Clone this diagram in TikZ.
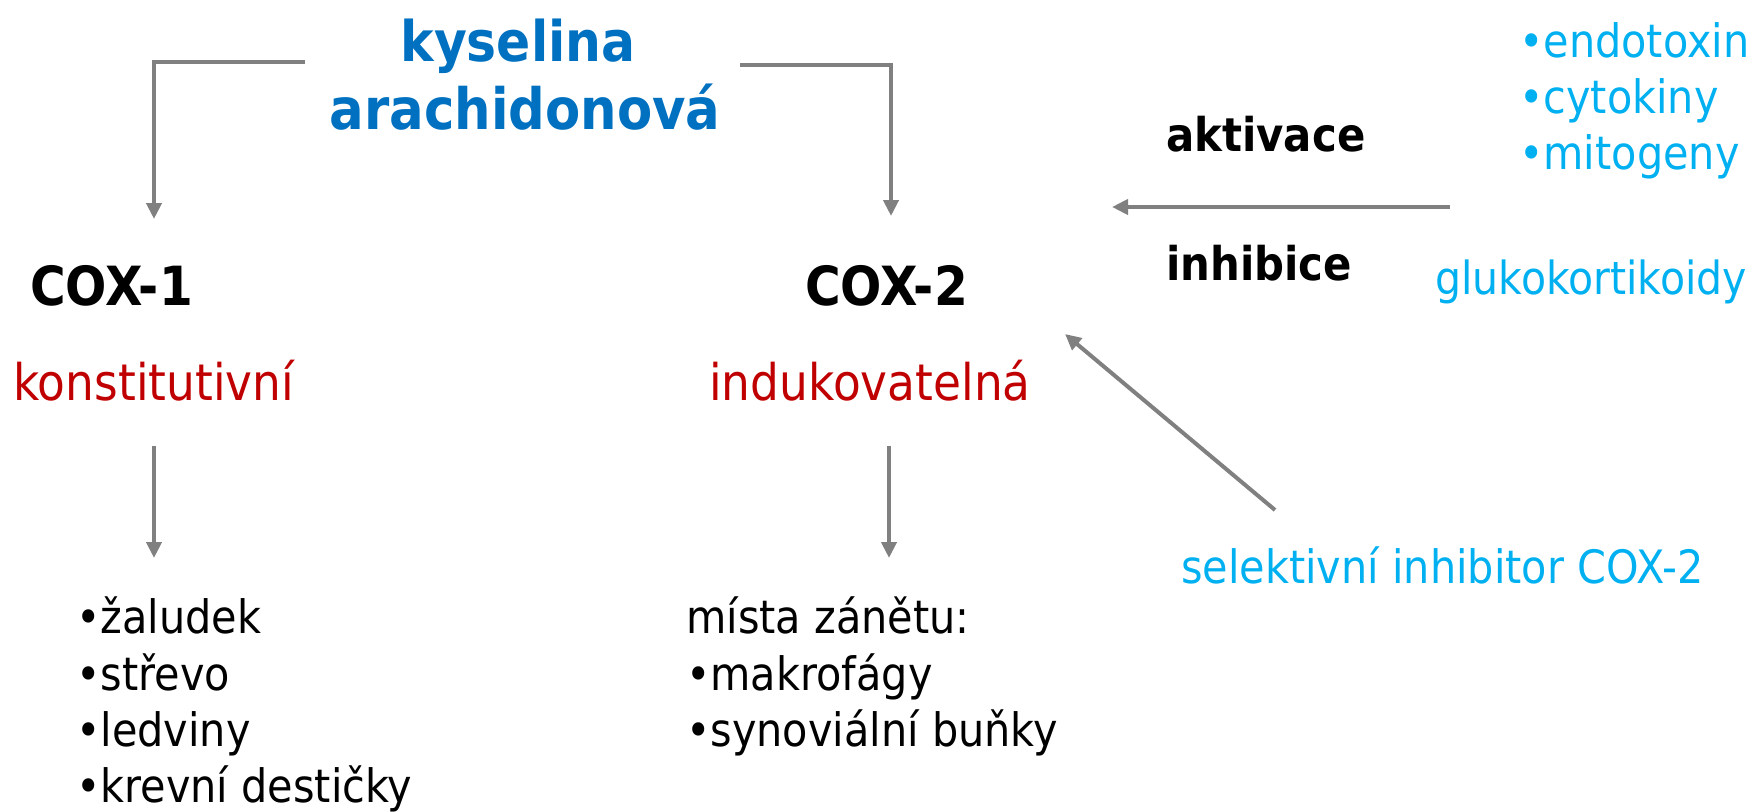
\documentclass[tikz,border=0pt]{standalone}
\usepackage{fontspec}
\setmainfont{DejaVu Sans}[FakeStretch=0.9]
\usetikzlibrary{arrows.meta}
\definecolor{kblue}{HTML}{0070C0}
\definecolor{kcyan}{HTML}{00B0F0}
\definecolor{kred}{HTML}{C00000}
\definecolor{kgray}{HTML}{808080}
\newcommand{\fs}[1]{\fontsize{#1}{#1}\selectfont}
\begin{document}
\begin{tikzpicture}[x=1pt,y=-1pt,
  lbl/.style={inner sep=0pt,anchor=base west},
  lblc/.style={inner sep=0pt,anchor=base},
  conn/.style={draw=kgray,line width=4pt,-{Triangle[length=16pt,width=15pt]}}]
\useasboundingbox (0,0) rectangle (1758,811);
% title
\node[lblc,text=kblue,font=\fs{56}\bfseries] (kys) at (518,61) {kyselina};
\node[lblc,text=kblue,font=\fs{57}\bfseries] (ara) at (525,129) {arachidonová};
% COX nodes
\node[lbl,font=\fs{54}\bfseries] (cox1) at (30,305) {COX-1};
\node[lbl,font=\fs{54}\bfseries] (cox2) at (805,305) {COX-2};
\node[lbl,text=kred,font=\fs{50.5}] (konst) at (13,400) {konstitutivní};
\node[lbl,text=kred,font=\fs{50.5}] (induk) at (709,400) {indukovatelná};
% bracket connectors
\coordinate (lstart) at (305,62);
\coordinate (lcorner) at (154,62);
\coordinate (ltip) at (154,219);
\coordinate (rstart) at (740,65);
\coordinate (rcorner) at (891,65);
\coordinate (rtip) at (891,216);
\draw[conn] (lstart) -- (lcorner) -- (ltip);
\draw[conn] (rstart) -- (rcorner) -- (rtip);
% down arrows
\coordinate (d1s) at (154,446);
\coordinate (d1e) at (154,558);
\coordinate (d2s) at (889,446);
\coordinate (d2e) at (889,558);
\draw[conn] (d1s) -- (d1e);
\draw[conn] (d2s) -- (d2e);
% left list
\node[lbl,font=\fs{46}] (l1) at (76,633) {•žaludek};
\node[lbl,font=\fs{46}] (l2) at (76,690) {•střevo};
\node[lbl,font=\fs{46}] (l3) at (76,746) {•ledviny};
\node[lbl,font=\fs{46}] (l4) at (76,802) {•krevní destičky};
% right list
\node[lbl,font=\fs{46}] (r1) at (686,633) {místa zánětu:};
\node[lbl,font=\fs{46}] (r2) at (686,690) {•makrofágy};
\node[lbl,font=\fs{46}] (r3) at (686,746) {•synoviální buňky};
% activation / inhibition
\node[lbl,font=\fs{46.5}\bfseries] (akt) at (1166,151) {aktivace};
\node[lbl,font=\fs{46.5}\bfseries] (inh) at (1166,280) {inhibice};
\node[lbl,text=kcyan,font=\fs{46}] (e1) at (1519,57) {•endotoxin};
\node[lbl,text=kcyan,font=\fs{46}] (e2) at (1519,113) {•cytokiny};
\node[lbl,text=kcyan,font=\fs{46}] (e3) at (1519,169) {•mitogeny};
\node[lbl,text=kcyan,font=\fs{45.6}] (gluk) at (1435,294) {glukokortikoidy};
\coordinate (hs) at (1450,207);
\coordinate (he) at (1112,207);
\draw[conn] (hs) -- (he);
% selective inhibitor
\node[lbl,text=kcyan,font=\fs{46}] (sel) at (1181,583) {selektivní inhibitor COX-2};
\coordinate (ds) at (1275,510);
\coordinate (de) at (1065,334);
\draw[conn] (ds) -- (de);
\end{tikzpicture}
\end{document}
